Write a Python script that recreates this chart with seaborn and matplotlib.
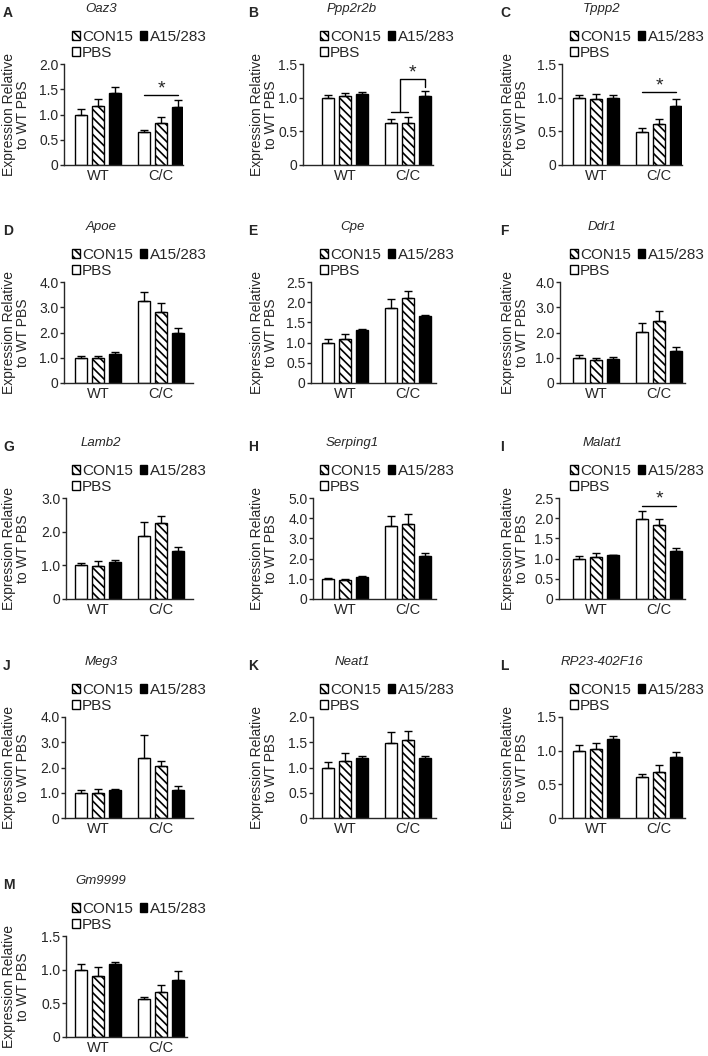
import numpy as np
import pandas as pd
import matplotlib
matplotlib.use("Agg")
import matplotlib.pyplot as plt
import seaborn as sns
from matplotlib.patches import Patch
from matplotlib.ticker import FuncFormatter

# data: mean and upper error (SEM) per bar
# order in each list: WT PBS, WT CON15, WT A15/283, C/C PBS, C/C CON15, C/C A15/283
genes = ['Oaz3', 'Ppp2r2b', 'Tppp2', 'Apoe', 'Cpe', 'Ddr1', 'Lamb2', 'Serping1',
         'Malat1', 'Meg3', 'Neat1', 'RP23-402F16', 'Gm9999']
letters = ['A', 'B', 'C', 'D', 'E', 'F', 'G', 'H', 'I', 'J', 'K', 'L', 'M']
genotypes = ['WT', 'C/C']
treatments = ['PBS', 'CON15', 'A15/283']

means = {
    'Oaz3':        [1.00, 1.16, 1.43, 0.66, 0.83, 1.15],
    'Ppp2r2b':     [1.00, 1.03, 1.06, 0.63, 0.63, 1.02],
    'Tppp2':       [1.00, 0.98, 0.99, 0.49, 0.61, 0.87],
    'Apoe':        [1.00, 1.00, 1.14, 3.25, 2.82, 2.00],
    'Cpe':         [1.00, 1.10, 1.30, 1.86, 2.10, 1.65],
    'Ddr1':        [1.00, 0.93, 0.95, 2.02, 2.47, 1.27],
    'Lamb2':       [1.00, 0.98, 1.10, 1.88, 2.27, 1.42],
    'Serping1':    [1.00, 0.95, 1.10, 3.60, 3.72, 2.12],
    'Malat1':      [1.00, 1.05, 1.08, 1.98, 1.82, 1.20],
    'Meg3':        [1.00, 1.00, 1.10, 2.37, 2.07, 1.12],
    'Neat1':       [1.00, 1.12, 1.18, 1.48, 1.54, 1.19],
    'RP23-402F16': [1.00, 1.03, 1.17, 0.61, 0.69, 0.90],
    'Gm9999':      [1.00, 0.90, 1.08, 0.57, 0.67, 0.85],
}
sems = {
    'Oaz3':        [0.10, 0.14, 0.11, 0.04, 0.13, 0.14],
    'Ppp2r2b':     [0.04, 0.04, 0.03, 0.06, 0.08, 0.08],
    'Tppp2':       [0.04, 0.08, 0.05, 0.06, 0.08, 0.11],
    'Apoe':        [0.05, 0.05, 0.07, 0.35, 0.33, 0.18],
    'Cpe':         [0.10, 0.12, 0.03, 0.21, 0.18, 0.04],
    'Ddr1':        [0.10, 0.07, 0.07, 0.36, 0.38, 0.15],
    'Lamb2':       [0.08, 0.14, 0.06, 0.42, 0.21, 0.11],
    'Serping1':    [0.02, 0.05, 0.04, 0.53, 0.48, 0.15],
    'Malat1':      [0.06, 0.10, 0.01, 0.20, 0.17, 0.07],
    'Meg3':        [0.10, 0.15, 0.04, 0.90, 0.18, 0.15],
    'Neat1':       [0.10, 0.16, 0.05, 0.23, 0.19, 0.03],
    'RP23-402F16': [0.09, 0.08, 0.05, 0.04, 0.10, 0.085],
    'Gm9999':      [0.09, 0.14, 0.04, 0.03, 0.10, 0.13],
}
ymax = [2.0, 1.5, 1.5, 4.0, 2.5, 4.0, 3.0, 5.0, 2.5, 4.0, 2.0, 1.5, 1.5]
ystep = [0.5, 0.5, 0.5, 1.0, 0.5, 1.0, 1.0, 1.0, 0.5, 1.0, 0.5, 0.5, 0.5]

# significance marks in the C/C group: (from treatment, to treatment, line level, star level)
sig_lines = {
    'Oaz3':   ('PBS', 'A15/283', 1.39, 1.50),
    'Tppp2':  ('PBS', 'A15/283', 1.09, 1.17),
    'Malat1': ('PBS', 'A15/283', 2.31, 2.48),
}
# Ppp2r2b bracket: lower bar level, upper level, drop end, star level
bracket_b = (0.79, 1.28, 1.155, 1.36)

# ---------------- layout (pixels) ----------------
W, H = 708, 1056
AXH = 101
row_top = [64, 282, 498, 717, 936]
ax_left = [64, 303, 562, 64, 311, 560, 66, 313, 559, 65, 313, 562, 66]
ax_right = [183, 433, 682, 193, 436, 685, 193, 436, 685, 193, 436, 685, 187]
bar_left = [75, 322, 573]
BAR_SPAN = 109
legend_x = [72, 320, 570]
ylab_x = [16, 264, 515]
title_x = [101, 352, 602]
letter_x = [3, 248, 500]

sns.set_style('ticks')
plt.rcParams['font.family'] = ['Liberation Sans', 'DejaVu Sans']
plt.rcParams['hatch.linewidth'] = 1.2
plt.rcParams['axes.linewidth'] = 1.0

HATCH = '\\\\\\\\'
pal = {'PBS': 'white', 'CON15': 'white', 'A15/283': 'black'}

fig = plt.figure(figsize=(W / 100, H / 100), dpi=100)


def fmt(v, pos):
    return '0' if abs(v) < 1e-9 else f'{v:.1f}'


for i, gene in enumerate(genes):
    row, col = divmod(i, 3)
    L, R = ax_left[i], ax_right[i]
    top = row_top[row]
    ax = fig.add_axes([L / W, 1 - (top + AXH) / H, (R - L) / W, AXH / H])

    df = pd.DataFrame({
        'genotype': np.repeat(genotypes, 3),
        'treatment': treatments * 2,
        'value': means[gene],
    })
    sns.barplot(data=df, x='genotype', y='value', hue='treatment',
                order=genotypes, hue_order=treatments, palette=pal,
                edgecolor='black', linewidth=1.0, gap=0.27, errorbar=None,
                saturation=1, legend=False, ax=ax)
    bar_conts = list(ax.containers)
    allbars = [b for c in bar_conts for b in c.patches]

    centers = {}
    for cont, tr in zip(bar_conts, treatments):
        bars = sorted(cont.patches, key=lambda b: b.get_x())
        for g, bar in zip(genotypes, bars):
            if tr == 'CON15':
                bar.set_hatch(HATCH)
            k = genotypes.index(g) * 3 + treatments.index(tr)
            xc = bar.get_x() + bar.get_width() / 2
            centers[(g, tr)] = xc
            ax.errorbar(xc, bar.get_height(), yerr=[[0], [sems[gene][k]]],
                        fmt='none', ecolor='black', elinewidth=1.0,
                        capsize=3.2, capthick=1.0, zorder=3)

    dl = min(b.get_x() for b in allbars)
    dr = max(b.get_x() + b.get_width() for b in allbars)
    ppu = BAR_SPAN / (dr - dl)
    bl = bar_left[col]
    ax.set_xlim(dl - (bl - L) / ppu, dr + (R - (bl + BAR_SPAN)) / ppu)

    ax.set_ylim(0, ymax[i])
    ax.set_yticks(np.arange(0, ymax[i] + 1e-6, ystep[i]))
    ax.yaxis.set_major_formatter(FuncFormatter(fmt))
    ax.tick_params(axis='y', length=3, width=1.0, pad=1, labelsize=10)
    ax.tick_params(axis='x', length=0, pad=3, labelsize=10.5)
    ax.set_xlabel('')
    ax.set_ylabel('')
    sns.despine(ax=ax)

    # significance
    if gene in sig_lines:
        a, b, yl, ys = sig_lines[gene]
        x0, x1 = centers[('C/C', a)], centers[('C/C', b)]
        ax.plot([x0, x1], [yl, yl], color='black', lw=1.0, clip_on=False)
        ax.text((x0 + x1) / 2, ys, '*', ha='center', va='center',
                fontsize=14, clip_on=False)
    if gene == 'Ppp2r2b':
        ylo, yhi, yend, ys = bracket_b
        xa, xb, xc = (centers[('C/C', t)] for t in treatments)
        xm = (xa + xb) / 2
        ax.plot([xa, xb], [ylo, ylo], color='black', lw=1.0, clip_on=False)
        ax.plot([xm, xm, xc, xc], [ylo, yhi, yhi, yend], color='black',
                lw=1.0, clip_on=False)
        ax.text((xm + xc) / 2, ys, '*', ha='center', va='center',
                fontsize=14, clip_on=False)

    # legend
    handles = [Patch(facecolor='white', edgecolor='black', hatch=HATCH, lw=1.0),
               Patch(facecolor='white', edgecolor='black', lw=1.0),
               Patch(facecolor='black', edgecolor='black', lw=1.0)]
    labels = ['CON15', 'PBS', 'A15/283']
    lx = (legend_x[col] - L) / (R - L)
    ly = 1 + 4 / AXH
    ax.legend(handles, labels, ncol=2, loc='lower left', bbox_to_anchor=(lx, ly),
              frameon=False, fontsize=11, handlelength=0.5, handleheight=0.5,
              handletextpad=0.15, columnspacing=0.45, labelspacing=0.12,
              borderpad=0, borderaxespad=0)

    # y label, title, panel letter
    yc = 1 - (top + AXH / 2) / H
    fig.text(ylab_x[col] / W, yc, 'Expression Relative\nto WT PBS', rotation=90,
             ha='center', va='center', multialignment='center', fontsize=10,
             linespacing=0.95)
    fig.text(title_x[col] / W, 1 - (top - 55) / H, gene, ha='center', va='center',
             fontsize=9.5, style='italic')
    fig.text(letter_x[col] / W, 1 - (top - 51) / H, letters[i], ha='left',
             va='center', fontsize=10, fontweight='bold')

fig.savefig('out.png', dpi=100)
